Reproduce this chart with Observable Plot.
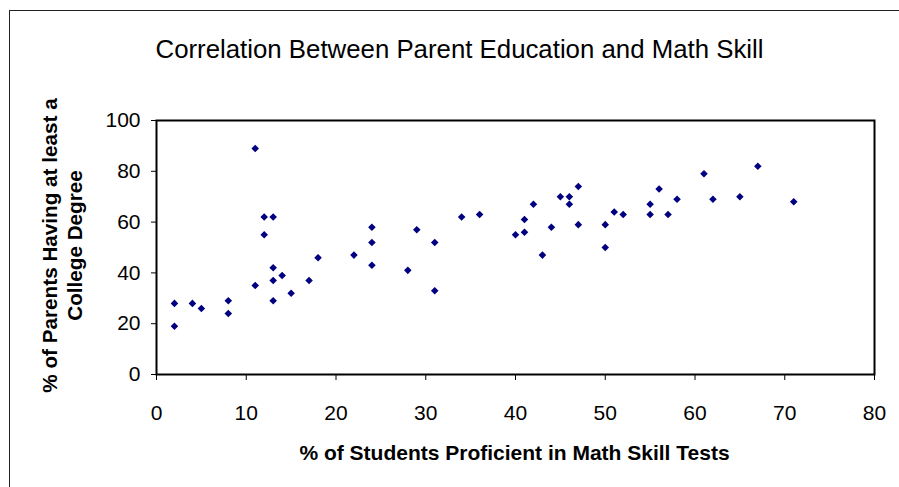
<!DOCTYPE html>
<html>
<head>
<meta charset="utf-8">
<script src="https://cdn.jsdelivr.net/npm/d3@7"></script>
<script src="https://cdn.jsdelivr.net/npm/@observablehq/plot@0.6"></script>
<style>
  html, body { margin: 0; padding: 0; background: #fff; }
  #wrap { position: relative; width: 899px; height: 487px; overflow: hidden; }
  #border { position: absolute; left: 9px; top: 10px; right: -5px; bottom: -5px;
            border-left: 1px solid #222; border-top: 1px solid #222; pointer-events: none; }
  #chart { position: absolute; left: 0; top: 0; }
</style>
</head>
<body>
<div id="wrap"><div id="chart"></div><div id="border"></div></div>
<script>
// Data
const mathProficiency = [2, 2, 4, 5, 8, 8, 11, 11, 12, 13, 12, 13, 13, 13, 14, 15, 17, 18, 22, 24, 24, 24,
  28, 29, 31, 31, 34, 36, 40, 41, 41, 42, 43, 44, 45, 46, 46, 47, 47, 50, 50, 51, 52,
  55, 55, 56, 57, 58, 61, 62, 65, 67, 71];
const parentDegree = [28, 19, 28, 26, 29, 24, 89, 35, 62, 62, 55, 42, 37, 29, 39, 32, 37, 46, 47, 58, 52, 43,
  41, 57, 52, 33, 62, 63, 55, 56, 61, 67, 47, 58, 70, 70, 67, 74, 59, 59, 50, 64, 63,
  67, 63, 73, 63, 69, 79, 69, 70, 82, 68];
const xTicks = [0, 10, 20, 30, 40, 50, 60, 70, 80];
const yTicks = [0, 20, 40, 60, 80, 100];
const chartTitle = "Correlation Between Parent Education and Math Skill";
const xTitle = "% of Students Proficient in Math Skill Tests";
const yTitleLines = ["% of Parents Having at least a", "College Degree"];

const data = mathProficiency.map((x, i) => ({x, y: parentDegree[i]}));

const font = "'Liberation Sans', Arial, sans-serif";
const chart = Plot.plot({
  width: 899,
  height: 487,
  marginTop: 120,
  marginBottom: 113,
  marginLeft: 156,
  marginRight: 25,
  style: {fontFamily: font, fontSize: "21px", color: "#000", background: "transparent"},
  x: {domain: [0, 80]},
  y: {domain: [0, 100]},
  marks: [
    Plot.axisX({ticks: xTicks, tickSize: 6, tickPadding: 25, label: null, tickFormat: d => String(d)}),
    Plot.axisY({ticks: yTicks, tickSize: 5, tickPadding: 11, label: null, tickFormat: d => String(d)}),
    Plot.dot(data, {x: "x", y: "y", symbol: "diamond2", r: 3.4, fill: "#000080", stroke: "none"}),
    Plot.frame({stroke: "#000", strokeWidth: 2}),
    Plot.text([chartTitle], {text: d => d, frameAnchor: "top", lineAnchor: "bottom", dx: -56, dy: -63,
      fontSize: 25.8, fill: "#000"}),
    Plot.text([xTitle], {text: d => d, frameAnchor: "bottom", lineAnchor: "bottom", dx: -1, dy: 85,
      fontSize: 21, fontWeight: "bold", fill: "#000"}),
    Plot.text([yTitleLines[0]], {text: d => d, frameAnchor: "left", rotate: -90, lineAnchor: "middle",
      textAnchor: "middle", dx: -106, dy: -2, fontSize: 20.7, fontWeight: "bold", fill: "#000"}),
    Plot.text([yTitleLines[1]], {text: d => d, frameAnchor: "left", rotate: -90, lineAnchor: "middle",
      textAnchor: "middle", dx: -81, dy: -2, fontSize: 20.7, fontWeight: "bold", fill: "#000"})
  ]
});
document.getElementById("chart").appendChild(chart);
</script>
</body>
</html>
